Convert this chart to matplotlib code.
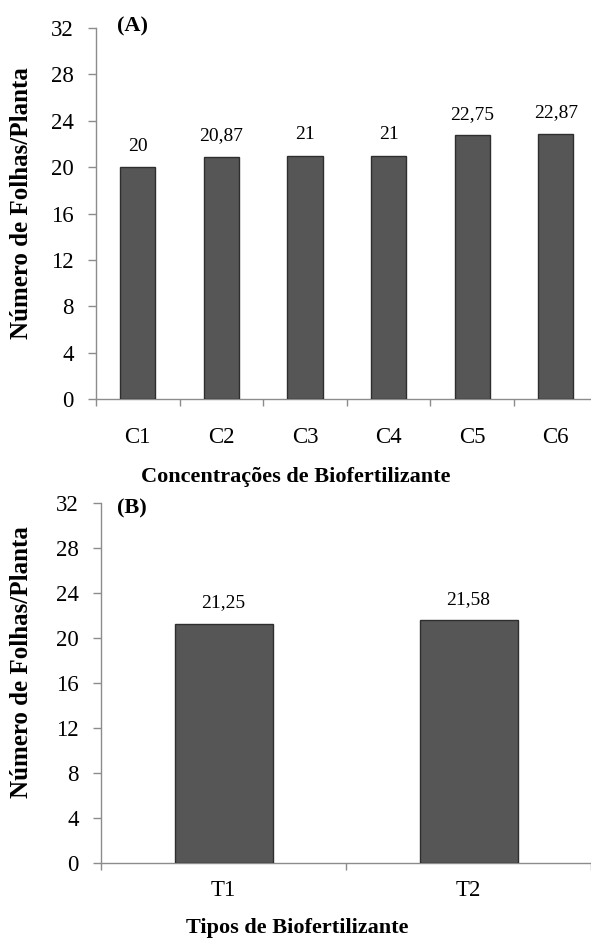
import matplotlib
matplotlib.use("Agg")
import matplotlib.pyplot as plt
import numpy as np

plt.rcParams['font.family'] = ['Liberation Serif', 'DejaVu Serif']

# Painel A - concentrações
conc = ['C1', 'C2', 'C3', 'C4', 'C5', 'C6']
folhas_conc = [20, 20.87, 21, 21, 22.75, 22.87]
rot_conc = ['20', '20,87', '21', '21', '22,75', '22,87']

# Painel B - tipos
tipos = ['T1', 'T2']
folhas_tipo = [21.25, 21.58]
rot_tipo = ['21,25', '21,58']

yticks = [0, 4, 8, 12, 16, 20, 24, 28, 32]
ylabel = 'Número de Folhas/Planta'

W, H = 591, 949
fig = plt.figure(figsize=(W / 100, H / 100), dpi=100)

axA = fig.add_axes([96 / W, 1 - 399 / H, 501.6 / W, 371 / H])
axB = fig.add_axes([101 / W, 1 - 863 / H, 490 / W, 360 / H])

gray = '#8c8c8c'


def painel(ax, cats, vals, rots, largura, xpad):
    x = np.arange(len(cats))
    bars = ax.bar(x, vals, width=largura, color='#565656',
                  edgecolor='#2e2e2e', linewidth=1.0, zorder=3)
    for b, r in zip(bars, rots):
        ax.annotate(r, (b.get_x() + b.get_width() / 2, b.get_height()),
                    xytext=(0, 9), textcoords='offset points',
                    ha='center', va='bottom', fontsize=14)
    ax.set_xlim(-0.5, len(cats) - 0.5)
    ax.set_ylim(0, 32)
    ax.set_yticks(yticks)
    ax.set_xticks(x)
    ax.set_xticklabels(cats, fontsize=16.5)
    ax.set_xticks(np.arange(len(cats) + 1) - 0.5, minor=True)
    ax.tick_params(axis='x', which='major', length=0, pad=xpad)
    ax.tick_params(axis='x', which='minor', length=5, color=gray, width=1)
    ax.tick_params(axis='y', length=6, color=gray, width=1, pad=10,
                   labelsize=16.5)
    for s in ['top', 'right']:
        ax.spines[s].set_visible(False)
    for s in ['left', 'bottom']:
        ax.spines[s].set_color(gray)
        ax.spines[s].set_linewidth(1)


painel(axA, conc, folhas_conc, rot_conc, 0.42, 20)
painel(axB, tipos, folhas_tipo, rot_tipo, 0.40, 12)

fig.text(117 / W, 1 - 26 / H, '(A)', fontsize=16, fontweight='bold',
         ha='left', va='center')
fig.text(117 / W, 1 - 508 / H, '(B)', fontsize=16, fontweight='bold',
         ha='left', va='center')

fig.text(22 / W, 1 - 203 / H, ylabel, rotation=90, fontsize=18,
         fontweight='bold', ha='center', va='center')
fig.text(22 / W, 1 - 662 / H, ylabel, rotation=90, fontsize=18,
         fontweight='bold', ha='center', va='center')

fig.text(296 / W, 1 - 477 / H, 'Concentrações de Biofertilizante',
         fontsize=16, fontweight='bold', ha='center', va='center')
fig.text(297 / W, 1 - 928 / H, 'Tipos de Biofertilizante',
         fontsize=16, fontweight='bold', ha='center', va='center')

fig.savefig('out.png', dpi=100)
